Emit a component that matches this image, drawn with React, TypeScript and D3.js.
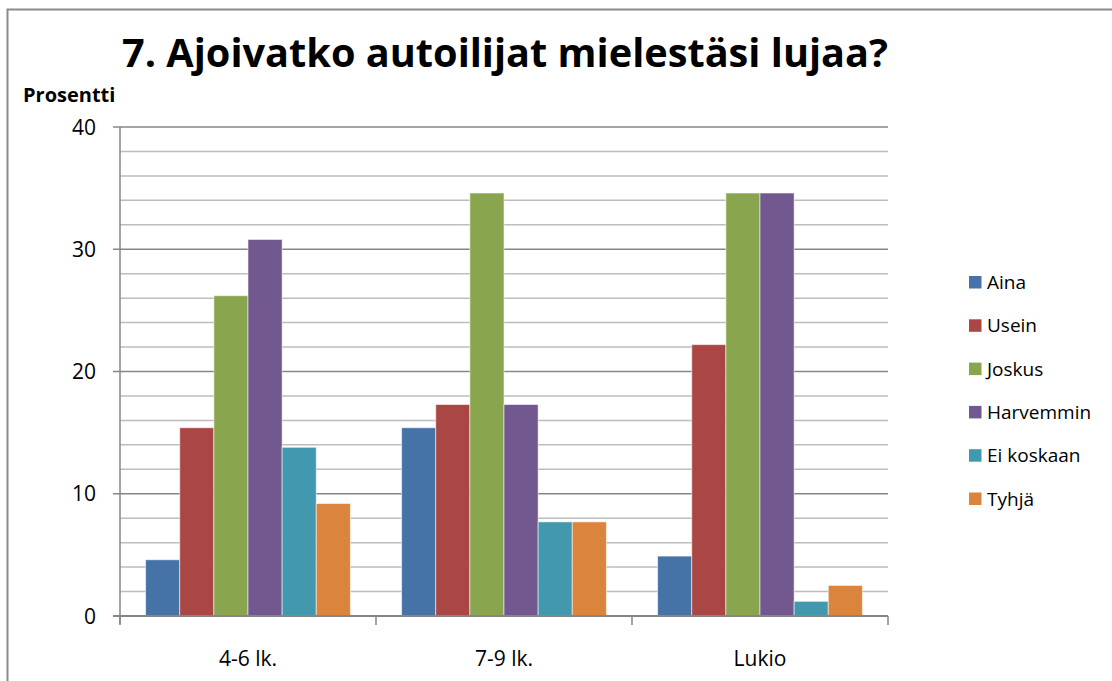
import * as d3 from "d3";
import { useEffect, useRef } from "react";

const categories = ["4-6 lk.", "7-9 lk.", "Lukio"];
const seriesNames = ["Aina", "Usein", "Joskus", "Harvemmin", "Ei koskaan", "Tyhjä"];
const seriesColors = ["#4572A7", "#AA4643", "#89A54E", "#71588F", "#4198AF", "#DB843D"];
// values per series, one entry per category
const aina = [4.6, 15.4, 4.9];
const usein = [15.4, 17.3, 22.2];
const joskus = [26.2, 34.6, 34.6];
const harvemmin = [30.8, 17.3, 34.6];
const eiKoskaan = [13.8, 7.7, 1.2];
const tyhja = [9.2, 7.7, 2.5];
const yTicks = [0, 10, 20, 30, 40];
const yMinor = d3.range(0, 41, 2);

const title = "7. Ajoivatko autoilijat mielestäsi lujaa?";
const yLabel = "Prosentti";

const W = 1112;
const H = 681;
const plot = { left: 120, right: 888, top: 127, bottom: 616 };
const FONT = "'Open Sans', 'Noto Sans', sans-serif";

const App = () => {
  const svgRef = useRef(null);

  useEffect(() => {
    const svg = d3.select(svgRef.current);
    svg.selectAll("*").remove();

    const values = [aina, usein, joskus, harvemmin, eiKoskaan, tyhja];
    const rows = categories.map((c, i) => ({
      cat: c,
      bars: seriesNames.map((s, j) => ({ key: s, color: seriesColors[j], value: values[j][i] })),
    }));

    const x0 = d3.scaleBand().domain(categories).range([plot.left, plot.right]);
    const x1 = d3
      .scaleBand()
      .domain(seriesNames)
      .range([0, x0.bandwidth()])
      .paddingInner(0)
      .paddingOuter(0.75);
    const y = d3.scaleLinear().domain([0, 40]).range([plot.bottom, plot.top]);

    // outer frame
    svg
      .append("rect")
      .attr("x", 7.5)
      .attr("y", 9.5)
      .attr("width", W)
      .attr("height", H)
      .attr("fill", "none")
      .attr("stroke", "#8a8a8a")
      .attr("stroke-width", 2);

    // minor + major gridlines
    svg
      .append("g")
      .selectAll("line")
      .data(yMinor.filter((d) => d % 10 !== 0))
      .join("line")
      .attr("x1", plot.left)
      .attr("x2", plot.right)
      .attr("y1", (d) => y(d))
      .attr("y2", (d) => y(d))
      .attr("stroke", "#bdbdbd")
      .attr("stroke-width", 1.5);

    svg
      .append("g")
      .selectAll("line")
      .data(yTicks)
      .join("line")
      .attr("x1", plot.left - 7)
      .attr("x2", plot.right)
      .attr("y1", (d) => y(d))
      .attr("y2", (d) => y(d))
      .attr("stroke", "#868686")
      .attr("stroke-width", 1.5);

    // bars
    svg
      .append("g")
      .selectAll("g")
      .data(rows)
      .join("g")
      .attr("transform", (d) => `translate(${x0(d.cat)},0)`)
      .selectAll("rect")
      .data((d) => d.bars)
      .join("rect")
      .attr("x", (d) => x1(d.key))
      .attr("y", (d) => y(d.value))
      .attr("width", x1.bandwidth())
      .attr("height", (d) => y(0) - y(d.value))
      .attr("fill", (d) => d.color)
      .attr("stroke", "rgba(255,255,255,0.55)")
      .attr("stroke-width", 1);

    // axes lines
    svg
      .append("line")
      .attr("x1", plot.left)
      .attr("x2", plot.left)
      .attr("y1", plot.top)
      .attr("y2", plot.bottom + 8)
      .attr("stroke", "#868686")
      .attr("stroke-width", 1.5);
    svg
      .append("line")
      .attr("x1", plot.left - 7)
      .attr("x2", plot.right)
      .attr("y1", plot.bottom)
      .attr("y2", plot.bottom)
      .attr("stroke", "#868686")
      .attr("stroke-width", 2);

    const catEdges = categories.map((c) => x0(c)).concat([plot.right]);
    svg
      .append("g")
      .selectAll("line")
      .data(catEdges)
      .join("line")
      .attr("x1", (d) => d)
      .attr("x2", (d) => d)
      .attr("y1", plot.bottom)
      .attr("y2", plot.bottom + 9)
      .attr("stroke", "#868686")
      .attr("stroke-width", 1.5);

    // y tick labels
    svg
      .append("g")
      .selectAll("text")
      .data(yTicks)
      .join("text")
      .attr("x", 96)
      .attr("y", (d) => y(d))
      .attr("dy", "0.36em")
      .attr("text-anchor", "end")
      .attr("font-family", FONT)
      .attr("font-size", 21)
      .attr("fill", "#000")
      .text((d) => d);

    // category labels
    svg
      .append("g")
      .selectAll("text")
      .data(categories)
      .join("text")
      .attr("x", (d) => x0(d) + x0.bandwidth() / 2)
      .attr("y", 666)
      .attr("text-anchor", "middle")
      .attr("font-family", FONT)
      .attr("font-size", 21)
      .attr("fill", "#000")
      .text((d) => d);

    // title, fitted to the reference width
    const t = svg
      .append("text")
      .attr("x", 505)
      .attr("y", 67)
      .attr("text-anchor", "middle")
      .attr("font-family", FONT)
      .attr("font-weight", "bold")
      .attr("font-size", 40)
      .attr("fill", "#000")
      .text(title);
    const tw = t.node().getComputedTextLength();
    if (tw > 0) t.attr("font-size", (40 * 766) / tw);

    svg
      .append("text")
      .attr("x", 23)
      .attr("y", 102)
      .attr("font-family", FONT)
      .attr("font-weight", "bold")
      .attr("font-size", 20)
      .attr("fill", "#000")
      .text(yLabel);

    // legend
    const legend = svg
      .append("g")
      .selectAll("g")
      .data(seriesNames)
      .join("g")
      .attr("transform", (d, i) => `translate(969,${276 + i * 43.3})`);
    legend
      .append("rect")
      .attr("width", 12.5)
      .attr("height", 12.5)
      .attr("fill", (d, i) => seriesColors[i]);
    legend
      .append("text")
      .attr("x", 18)
      .attr("y", 13)
      .attr("font-family", FONT)
      .attr("font-size", 19)
      .attr("fill", "#000")
      .text((d) => d);
  }, []);

  return (
    <svg
      ref={svgRef}
      width={W}
      height={H}
      style={{ position: "absolute", left: 0, top: 0, background: "#fff" }}
    />
  );
};

export default App;
